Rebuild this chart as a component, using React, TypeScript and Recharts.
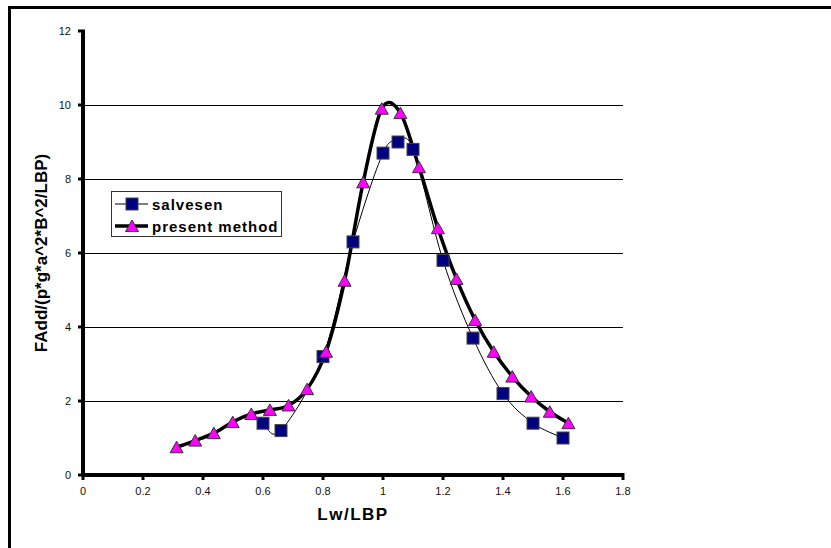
import React from 'react';
import { LineChart, Line, XAxis, YAxis, CartesianGrid, Legend } from 'recharts';

// Added-mass style response vs. wave length ratio
const salvesenX = [0.6, 0.66, 0.8, 0.9, 1.0, 1.05, 1.1, 1.2, 1.3, 1.4, 1.5, 1.6];
const salvesenY = [1.4, 1.2, 3.2, 6.3, 8.7, 9.0, 8.8, 5.8, 3.7, 2.2, 1.4, 1.0];

const presentX = [
  0.312, 0.374, 0.436, 0.499, 0.561, 0.623, 0.685, 0.747, 0.81, 0.872, 0.934,
  0.996, 1.058, 1.12, 1.183, 1.245, 1.307, 1.369, 1.431, 1.494, 1.556, 1.618,
];
const presentY = [
  0.75, 0.93, 1.13, 1.43, 1.65, 1.76, 1.88, 2.32, 3.33, 5.25, 7.91,
  9.9, 9.78, 8.32, 6.67, 5.3, 4.19, 3.33, 2.66, 2.12, 1.71, 1.4,
];

const xTicks = [0, 0.2, 0.4, 0.6, 0.8, 1, 1.2, 1.4, 1.6, 1.8];
const yTicks = [0, 2, 4, 6, 8, 10, 12];
const gridValues = [2, 4, 6, 8, 10];

const xDomain = [0, 1.8];
const yDomain = [0, 12];

const salvesenData = salvesenX.map((x, i) => ({ x, y: salvesenY[i] }));
const presentData = presentX.map((x, i) => ({ x, y: presentY[i] }));

// heavy axis strokes, drawn as plain segments along the domain edges
const xAxisLine = xDomain.map((x) => ({ x, y: yDomain[0] }));
const yAxisLine = yDomain.map((y) => ({ x: xDomain[0], y }));

const FONT = 'Arial, "Liberation Sans", sans-serif';

// Catmull-Rom style smoothing, like spreadsheet "smoothed line"
const smoothCurve = (context: any) => {
  let pts: number[][] = [];
  return {
    areaStart() {},
    areaEnd() {},
    lineStart() {
      pts = [];
    },
    lineEnd() {
      const n = pts.length;
      if (!n) return;
      context.moveTo(pts[0][0], pts[0][1]);
      for (let i = 0; i < n - 1; i++) {
        const p0 = pts[Math.max(i - 1, 0)];
        const p1 = pts[i];
        const p2 = pts[i + 1];
        const p3 = pts[Math.min(i + 2, n - 1)];
        context.bezierCurveTo(
          p1[0] + (p2[0] - p0[0]) / 6,
          p1[1] + (p2[1] - p0[1]) / 6,
          p2[0] - (p3[0] - p1[0]) / 6,
          p2[1] - (p3[1] - p1[1]) / 6,
          p2[0],
          p2[1]
        );
      }
    },
    point(x: number, y: number) {
      pts.push([+x, +y]);
    },
  };
};

const SquareDot = (props: any) => {
  const { cx, cy } = props;
  if (cx == null || cy == null) return null;
  return <rect x={cx - 6} y={cy - 6} width={12} height={12} fill="#000080" stroke="#444" strokeWidth={1} />;
};

const TriangleDot = (props: any) => {
  const { cx, cy } = props;
  if (cx == null || cy == null) return null;
  return (
    <polygon
      points={`${cx},${cy - 6} ${cx - 6.5},${cy + 5.5} ${cx + 6.5},${cy + 5.5}`}
      fill="#FF00FF"
      stroke="#333"
      strokeWidth={1}
    />
  );
};

// tick mark + label drawn together
const XTick = (props: any) => {
  const { x, y, payload } = props;
  return (
    <g>
      <rect x={x - 1.5} y={y - 2} width={3} height={7} fill="#000" />
      <text x={x} y={y + 20} textAnchor="middle" fontSize={11} fontFamily={FONT} fill="#111">
        {payload.value}
      </text>
    </g>
  );
};

const YTick = (props: any) => {
  const { x, y, payload } = props;
  return (
    <g>
      <rect x={x - 5} y={y - 1.5} width={7} height={3} fill="#000" />
      <text x={x - 12} y={y + 4} textAnchor="end" fontSize={11} fontFamily={FONT} fill="#111">
        {payload.value}
      </text>
    </g>
  );
};

const renderLegend = () => (
  <div
    style={{
      border: '1px solid #333',
      background: '#fff',
      width: 169,
      height: 44,
      boxSizing: 'content-box',
      fontFamily: FONT,
      fontWeight: 'bold',
      fontSize: 15,
      letterSpacing: 1,
    }}
  >
    <div style={{ display: 'flex', alignItems: 'center', height: 22, marginTop: 1 }}>
      <svg width={40} height={22} style={{ flex: 'none' }}>
        <line x1={3} y1={11} x2={36} y2={11} stroke="#000" strokeWidth={1} />
        <SquareDot cx={20} cy={11} />
      </svg>
      <span>salvesen</span>
    </div>
    <div style={{ display: 'flex', alignItems: 'center', height: 22 }}>
      <svg width={40} height={22} style={{ flex: 'none' }}>
        <line x1={3} y1={11} x2={36} y2={11} stroke="#000" strokeWidth={3.5} />
        <TriangleDot cx={20} cy={11} />
      </svg>
      <span>present method</span>
    </div>
  </div>
);

const YTitle = (props: any) => {
  const { viewBox } = props;
  const cx = viewBox.x + 41;
  const cy = viewBox.y + viewBox.height / 2;
  return (
    <text
      x={cx}
      y={cy}
      transform={`rotate(-90, ${cx}, ${cy})`}
      textAnchor="middle"
      dominantBaseline="central"
      fontFamily={FONT}
      fontWeight="bold"
      fontSize={17}
      fill="#000"
    >
      FAdd/(p*g*a^2*B^2/LBP)
    </text>
  );
};

const XTitle = (props: any) => {
  const { viewBox } = props;
  return (
    <text
      x={viewBox.x + viewBox.width / 2}
      y={viewBox.y + 45}
      textAnchor="middle"
      fontFamily={FONT}
      fontWeight="bold"
      fontSize={17}
      letterSpacing={1.5}
      fill="#000"
    >
      Lw/LBP
    </text>
  );
};

export default function App() {
  return (
    <div style={{ position: 'absolute', left: 0, top: 0, width: 831, height: 548, overflow: 'hidden', background: '#fff' }}>
      <div
        style={{
          position: 'absolute',
          left: 8,
          top: 6,
          width: 900,
          height: 600,
          borderTop: '3px solid #000',
          borderLeft: '3px solid #000',
        }}
      />
      <LineChart
        width={831}
        height={548}
        data={presentData}
        margin={{ top: 31, right: 208, bottom: 0, left: 0 }}
        style={{ position: 'absolute', left: 0, top: 0 }}
      >
        <CartesianGrid
          horizontal
          vertical={false}
          horizontalValues={gridValues}
          stroke="#000"
          strokeWidth={1}
          shapeRendering="crispEdges"
        />
        <XAxis
          type="number"
          dataKey="x"
          domain={xDomain}
          ticks={xTicks}
          height={73}
          axisLine={false}
          tickLine={false}
          tickSize={0}
          tickMargin={0}
          tick={<XTick />}
          interval={0}
          label={<XTitle />}
        />
        <YAxis
          type="number"
          domain={yDomain}
          ticks={yTicks}
          width={83}
          axisLine={false}
          tickLine={false}
          tickSize={0}
          tickMargin={0}
          tick={<YTick />}
          interval={0}
          label={<YTitle />}
        />
        <Legend
          layout="vertical"
          align="center"
          verticalAlign="middle"
          content={renderLegend}
          wrapperStyle={{ left: 111, top: 191, width: 171, height: 46 }}
        />
        <Line
          data={xAxisLine}
          dataKey="y"
          type="linear"
          stroke="#000"
          strokeWidth={4}
          dot={false}
          activeDot={false}
          legendType="none"
          isAnimationActive={false}
        />
        <Line
          data={yAxisLine}
          dataKey="y"
          type="linear"
          stroke="#000"
          strokeWidth={4}
          dot={false}
          activeDot={false}
          legendType="none"
          isAnimationActive={false}
        />
        <Line
          data={salvesenData}
          dataKey="y"
          name="salvesen"
          type={smoothCurve as any}
          stroke="#000"
          strokeWidth={1}
          dot={<SquareDot />}
          activeDot={false}
          isAnimationActive={false}
        />
        <Line
          dataKey="y"
          name="present method"
          type={smoothCurve as any}
          stroke="#000"
          strokeWidth={3.5}
          dot={<TriangleDot />}
          activeDot={false}
          isAnimationActive={false}
        />
      </LineChart>
    </div>
  );
}
